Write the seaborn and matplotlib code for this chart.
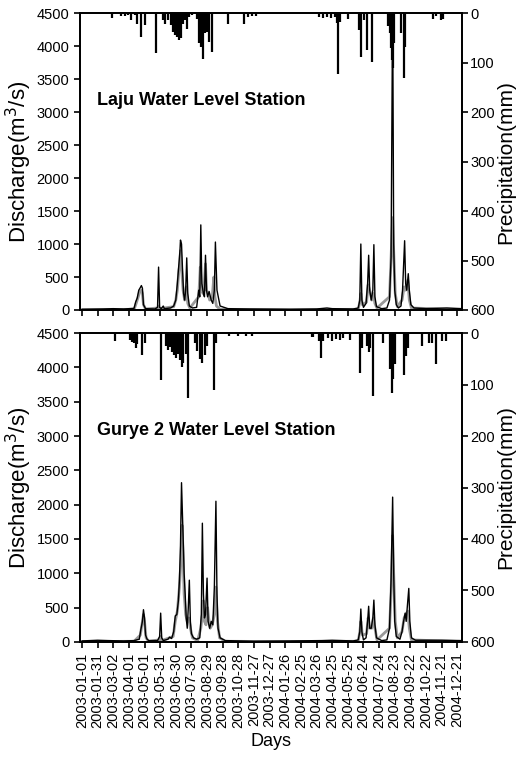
import matplotlib
matplotlib.use("Agg")
import matplotlib.pyplot as plt
import seaborn as sns
import pandas as pd

# ---- data (day = days since 2003-01-01) ----
laju_obs_day = [0, 40, 60, 80, 100, 103, 106, 109, 112, 114, 116, 118, 122, 140, 145, 147, 149,
                152, 156, 158, 170, 176, 180, 183, 186, 188, 189, 191, 193, 195, 197, 199, 201,
                203, 206, 212, 220, 224, 226, 228, 230, 233, 235, 237, 239, 241, 244, 248, 251,
                254, 256, 259, 265, 280, 320, 400, 450, 470, 480, 520, 530, 533, 535, 537, 540,
                545, 548, 550, 552, 555, 558, 560, 562, 565, 575, 585, 590, 593, 596, 598, 600,
                603, 607, 612, 615, 619, 621, 623, 626, 628, 631, 637, 660, 700, 729]
laju_obs_q = [10, 15, 20, 15, 25, 120, 180, 300, 340, 370, 330, 80, 20, 15, 40, 650, 40,
              20, 60, 20, 30, 60, 150, 400, 700, 900, 1060, 1000, 600, 250, 150, 300, 790,
              250, 60, 30, 40, 300, 200, 1290, 400, 250, 200, 830, 300, 200, 280, 150, 100,
              300, 1030, 300, 60, 20, 15, 10, 15, 30, 20, 15, 30, 150, 1000, 150, 40,
              100, 400, 830, 300, 150, 300, 990, 200, 50, 20, 30, 150, 800, 4700, 1000, 300,
              80, 30, 60, 300, 1050, 400, 300, 550, 300, 80, 30, 20, 30, 20]

laju_sim_day = [0, 100, 104, 108, 111, 114, 116, 118, 122, 145, 147, 149, 176, 180, 183, 186,
                188, 189, 191, 194, 197, 200, 203, 207, 224, 227, 229, 232, 234, 237, 239, 242,
                245, 250, 253, 255, 258, 265, 400, 530, 533, 535, 538, 546, 549, 552, 556, 559,
                562, 566, 590, 593, 596, 598, 601, 605, 614, 618, 621, 625, 628, 632, 729]
laju_sim_q = [5, 10, 100, 200, 280, 300, 250, 80, 15, 30, 60, 20, 50, 150, 300, 600,
              700, 900, 650, 300, 150, 350, 100, 30, 200, 650, 400, 250, 300, 700, 300, 250,
              150, 200, 500, 200, 60, 10, 5, 10, 120, 250, 80, 120, 380, 300, 150, 250,
              100, 30, 200, 800, 1400, 900, 250, 50, 150, 350, 300, 450, 150, 30, 5]

gurye_obs_day = [0, 30, 50, 80, 100, 110, 113, 116, 118, 120, 122, 125, 128, 145, 149, 151, 153,
                 156, 165, 168, 172, 176, 179, 182, 185, 187, 189, 191, 193, 194, 196, 198, 200,
                 202, 204, 206, 208, 210, 214, 220, 226, 229, 231, 233, 235, 237, 240, 242, 245,
                 248, 251, 254, 257, 259, 261, 265, 275, 330, 400, 460, 480, 500, 520, 530, 533,
                 535, 537, 540, 545, 548, 550, 552, 555, 558, 560, 562, 565, 575, 585, 590, 593,
                 596, 598, 600, 603, 610, 614, 617, 620, 622, 624, 627, 629, 632, 640, 690, 729]
gurye_obs_q = [15, 25, 20, 15, 20, 40, 180, 300, 470, 350, 100, 40, 20, 20, 80, 420, 60,
               20, 40, 70, 50, 150, 380, 400, 600, 900, 1400, 2320, 1800, 1550, 1000, 700, 350,
               200, 500, 900, 300, 120, 60, 40, 60, 400, 1730, 700, 350, 400, 930, 300, 200,
               300, 250, 800, 2050, 700, 200, 60, 20, 10, 15, 20, 25, 20, 15, 30, 150,
               480, 150, 30, 60, 300, 520, 200, 200, 350, 610, 250, 60, 20, 30, 200, 900,
               2110, 1000, 300, 80, 40, 150, 300, 420, 300, 500, 780, 300, 60, 25, 25, 20]

gurye_sim_day = [0, 100, 112, 115, 118, 120, 123, 128, 148, 151, 153, 175, 179, 183, 187, 190,
                 192, 194, 196, 199, 202, 205, 208, 212, 222, 228, 231, 233, 235, 238, 241, 243,
                 246, 250, 254, 257, 260, 264, 275, 400, 530, 533, 535, 538, 546, 549, 552, 556,
                 559, 562, 566, 590, 593, 596, 598, 601, 605, 614, 618, 621, 625, 628, 632, 729]
gurye_sim_q = [5, 10, 100, 250, 400, 300, 60, 10, 30, 80, 20, 80, 300, 450, 800, 1200,
               1700, 1300, 700, 400, 300, 350, 200, 60, 20, 200, 400, 600, 300, 250, 500, 350,
               200, 250, 400, 800, 300, 60, 10, 5, 10, 150, 300, 100, 120, 350, 200, 200,
               350, 200, 30, 200, 700, 1550, 1000, 300, 60, 150, 350, 400, 450, 200, 30, 5]

laju_rain_day = [57, 75, 82, 88, 95, 102, 106, 113, 121, 143, 156, 160, 166, 170, 174, 178, 183,
                 187, 190, 193, 198, 202, 206, 212, 220, 225, 228, 232, 236, 240, 244, 249, 281,
                 310, 318, 326, 334, 455, 462, 470, 478, 486, 489, 492, 495, 510, 532, 535, 541,
                 546, 557, 588, 590, 592, 594, 596, 598, 612, 617, 620, 674, 680, 688, 693]
laju_rain_mm = [10, 5, 6, 4, 14, 4, 21, 48, 24, 80, 14, 21, 14, 24, 38, 44, 48,
                55, 51, 21, 14, 31, 7, 4, 11, 61, 68, 92, 41, 38, 58, 78, 22,
                21, 8, 6, 5, 8, 10, 7, 9, 8, 20, 122, 18, 11, 34, 88, 14,
                75, 98, 25, 40, 70, 95, 110, 60, 40, 132, 68, 11, 6, 14, 12]

gurye_rain_day = [63, 92, 96, 100, 103, 105, 116, 120, 151, 162, 166, 169, 172, 176, 180, 185,
                  188, 191, 194, 199, 204, 217, 221, 226, 230, 236, 240, 253, 257, 282, 300, 315,
                  327, 441, 444, 455, 459, 463, 472, 480, 488, 495, 501, 514, 534, 538, 546, 550,
                  553, 559, 578, 591, 594, 597, 600, 617, 622, 626, 652, 665, 672, 679, 690, 698]
gurye_rain_mm = [15, 13, 18, 20, 29, 22, 42, 19, 91, 26, 32, 28, 36, 42, 49, 40,
                 52, 65, 58, 40, 126, 20, 35, 50, 58, 42, 26, 110, 19, 5, 6, 5,
                 5, 8, 8, 15, 49, 15, 10, 16, 12, 14, 10, 13, 78, 30, 26, 36,
                 30, 123, 19, 70, 116, 90, 60, 81, 45, 30, 26, 20, 20, 61, 15, 15]

start = pd.Timestamp("2003-01-01")


def to_dates(days):
    return start + pd.to_timedelta(days, unit="D")


tick_dates = pd.date_range("2003-01-01", periods=25, freq="30D")
tick_labels = [d.strftime("%Y-%m-%d") for d in tick_dates]

sns.set_style("ticks")
plt.rcParams["font.family"] = ["Liberation Sans", "DejaVu Sans"]
plt.rcParams["xtick.labelsize"] = 10.5
plt.rcParams["ytick.labelsize"] = 10.5
plt.rcParams["text.color"] = "k"
plt.rcParams["axes.labelcolor"] = "k"
plt.rcParams["path.simplify"] = False

fig = plt.figure(figsize=(5.22, 7.59), dpi=100)
ax_top = fig.add_axes([0.153, 0.5916, 0.732, 0.391])
ax_bot = fig.add_axes([0.153, 0.1542, 0.732, 0.407])

panels = [
    (ax_top, laju_obs_day, laju_obs_q, laju_sim_day, laju_sim_q, laju_rain_day, laju_rain_mm,
     "Laju Water Level Station", 0.707),
    (ax_bot, gurye_obs_day, gurye_obs_q, gurye_sim_day, gurye_sim_q, gurye_rain_day, gurye_rain_mm,
     "Gurye 2 Water Level Station", 0.686),
]

for ax, od, oq, sd, sq, rd, rm, title, ty in panels:
    sns.lineplot(x=to_dates(sd), y=sq, ax=ax, color="0.6", lw=2.0)
    sns.lineplot(x=to_dates(od), y=oq, ax=ax, color="k", lw=1.0)
    ax.set_ylim(0, 4500)
    ax.set_yticks(range(0, 4501, 500))
    ax.set_xlim(start - pd.Timedelta(days=4), start + pd.Timedelta(days=729))
    ax.set_xticks(tick_dates)
    ax.set_ylabel("Discharge(m$^3$/s)", fontsize=16, labelpad=2)
    ax.text(0.045, ty, title, transform=ax.transAxes, fontsize=13,
            fontweight="bold", va="center", color="k")

    ax2 = ax.twinx()
    ax2.vlines(to_dates(rd), 0, rm, color="k", lw=1.6)
    ax2.set_ylim(600, 0)
    ax2.set_yticks(range(0, 601, 100))
    ax2.set_ylabel("Precipitation(mm)", fontsize=15, labelpad=1)
    for a in (ax, ax2):
        for s in a.spines.values():
            s.set_visible(True)
            s.set_linewidth(1.3)
            s.set_color("k")
        a.tick_params(direction="out", length=4, width=1.2, colors="k")
    ax2.tick_params(axis="y", pad=2)

ax_top.set_xticklabels([])
ax_top.set_xlabel("")
ax_bot.set_xticklabels(tick_labels, rotation=90)
ax_bot.set_xlabel("Days", fontsize=13)

fig.savefig("out.png", dpi=100)
